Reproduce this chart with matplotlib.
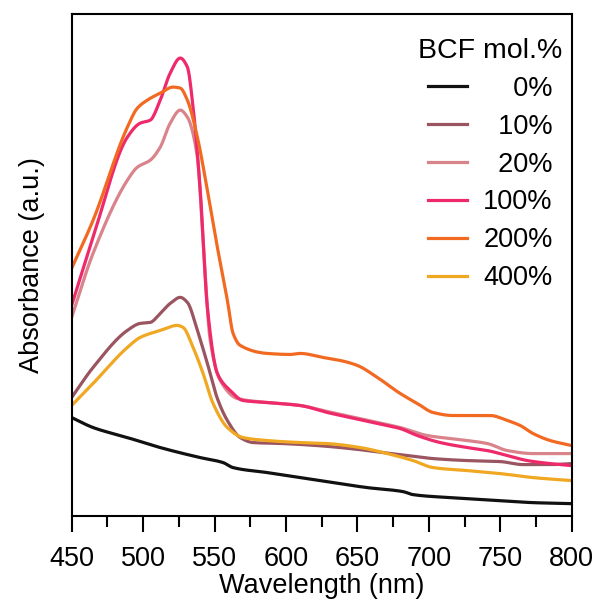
import numpy as np
import matplotlib
matplotlib.use("Agg")
import matplotlib.pyplot as plt
from matplotlib.ticker import MultipleLocator

plt.rcParams['font.family'] = ['Liberation Sans', 'DejaVu Sans']

# Absorbance spectra (arbitrary units)
wl_0 = [450, 465, 489, 512, 540, 556, 563, 587, 610, 633, 657, 682, 689, 715, 750, 773, 800]
abs_0 = [0.98, 0.88, 0.78, 0.68, 0.58, 0.53, 0.48, 0.43, 0.38, 0.33, 0.28, 0.24, 0.21, 0.18, 0.15, 0.13, 0.12]

wl_10 = [450, 465, 489, 498, 505, 512, 519, 526, 531, 538, 545, 552, 559, 568, 577, 598, 622, 645,
         668, 685, 703, 727, 750, 766, 785, 800]
abs_10 = [1.18, 1.48, 1.85, 1.92, 1.93, 2.02, 2.12, 2.18, 2.13, 1.85, 1.52, 1.17, 0.95, 0.78, 0.73,
          0.72, 0.70, 0.67, 0.63, 0.60, 0.57, 0.55, 0.54, 0.51, 0.51, 0.52]

wl_20 = [450, 465, 489, 496, 505, 512, 519, 526, 531, 538, 542, 547, 554, 566, 587, 610, 629, 645,
         661, 680, 699, 715, 727, 741, 755, 773, 800]
abs_20 = [1.98, 2.62, 3.35, 3.48, 3.55, 3.68, 3.92, 4.05, 3.98, 3.58, 2.75, 1.75, 1.35, 1.17, 1.13,
          1.10, 1.04, 0.99, 0.94, 0.88, 0.80, 0.77, 0.75, 0.72, 0.65, 0.62, 0.62]

wl_100 = [450, 465, 489, 498, 505, 512, 519, 526, 531, 535, 540, 545, 552, 561, 570, 587, 610, 629,
          645, 661, 680, 692, 708, 727, 741, 755, 769, 785, 800]
abs_100 = [2.10, 2.78, 3.78, 3.92, 3.95, 4.15, 4.42, 4.57, 4.48, 4.08, 3.25, 2.08, 1.42, 1.25, 1.15,
           1.13, 1.10, 1.03, 0.98, 0.93, 0.87, 0.80, 0.73, 0.68, 0.65, 0.60, 0.55, 0.52, 0.50]

wl_200 = [450, 465, 489, 496, 503, 512, 521, 526, 531, 538, 545, 552, 559, 563, 568, 587, 603, 610,
          626, 638, 650, 664, 680, 692, 703, 717, 731, 743, 755, 764, 773, 785, 800]
abs_200 = [2.47, 2.95, 3.88, 4.07, 4.15, 4.22, 4.28, 4.27, 4.15, 3.78, 3.25, 2.68, 2.15, 1.82, 1.70,
           1.62, 1.61, 1.62, 1.58, 1.55, 1.50, 1.38, 1.22, 1.12, 1.03, 1.00, 1.00, 1.00, 0.95, 0.90,
           0.82, 0.75, 0.70]

wl_400 = [450, 465, 489, 498, 512, 524, 528, 535, 542, 549, 559, 570, 587, 610, 629, 652, 671, 689,
          703, 727, 750, 773, 800]
abs_400 = [1.10, 1.32, 1.68, 1.78, 1.85, 1.90, 1.88, 1.68, 1.42, 1.12, 0.88, 0.78, 0.75, 0.73, 0.72,
           0.68, 0.62, 0.55, 0.48, 0.45, 0.42, 0.38, 0.35]

labels = ['0%', '10%', '20%', '100%', '200%', '400%']
colors = ['#111111', '#9a5560', '#d9838b', '#ee2a6b', '#f26a22', '#f0a823']


def smooth(x, y, n=600):
    # monotone cubic (pchip-style) curve through the read points, for drawing only
    x = np.asarray(x, float)
    y = np.asarray(y, float)
    h = np.diff(x)
    d = np.diff(y) / h
    m = np.zeros_like(y)
    for i in range(1, len(y) - 1):
        if d[i - 1] * d[i] > 0:
            w1 = 2 * h[i] + h[i - 1]
            w2 = h[i] + 2 * h[i - 1]
            m[i] = (w1 + w2) / (w1 / d[i - 1] + w2 / d[i])
    m[0] = d[0]
    m[-1] = d[-1]
    xs = np.linspace(x[0], x[-1], n)
    k = np.clip(np.searchsorted(x, xs) - 1, 0, len(x) - 2)
    t = (xs - x[k]) / h[k]
    h00 = 2 * t**3 - 3 * t**2 + 1
    h10 = t**3 - 2 * t**2 + t
    h01 = -2 * t**3 + 3 * t**2
    h11 = t**3 - t**2
    ys = h00 * y[k] + h10 * h[k] * m[k] + h01 * y[k + 1] + h11 * h[k] * m[k + 1]
    return xs, ys


fig = plt.figure(figsize=(5.97, 6.01), dpi=100)
ax = fig.add_axes([0.120, 0.142, 0.8376, 0.8347])

series = [(wl_0, abs_0), (wl_10, abs_10), (wl_20, abs_20),
          (wl_100, abs_100), (wl_200, abs_200), (wl_400, abs_400)]
for (x, y), lab, c in zip(series, labels, colors):
    xs, ys = smooth(x, y)
    # pad shorter labels with figure spaces so they line up on the right
    pad = '\u2007' * (4 - len(lab))
    ax.plot(xs, ys, color=c, lw=2.3, label=pad + lab)

ax.set_xlim(450, 800)
ax.set_ylim(0, 5.01)
ax.xaxis.set_major_locator(MultipleLocator(50))
ax.xaxis.set_minor_locator(MultipleLocator(25))
ax.tick_params(axis='x', which='major', direction='out', length=11.5, width=1.5,
               labelsize=19.5, pad=10)
ax.tick_params(axis='x', which='minor', direction='out', length=8, width=1.5)
ax.set_yticks([])
for s in ax.spines.values():
    s.set_linewidth(1.5)

ax.set_xlabel('Wavelength (nm)', fontsize=19.5, labelpad=1)
ax.set_ylabel('Absorbance (a.u.)', fontsize=19.5, labelpad=19)

leg = ax.legend(title='BCF mol.%', loc='upper right', bbox_to_anchor=(1.014, 0.985),
                frameon=False, fontsize=19.5, title_fontsize=20.5,
                handlelength=1.45, handletextpad=0.6, labelspacing=0.44, borderaxespad=0.2)

fig.savefig('out.png', dpi=100)
